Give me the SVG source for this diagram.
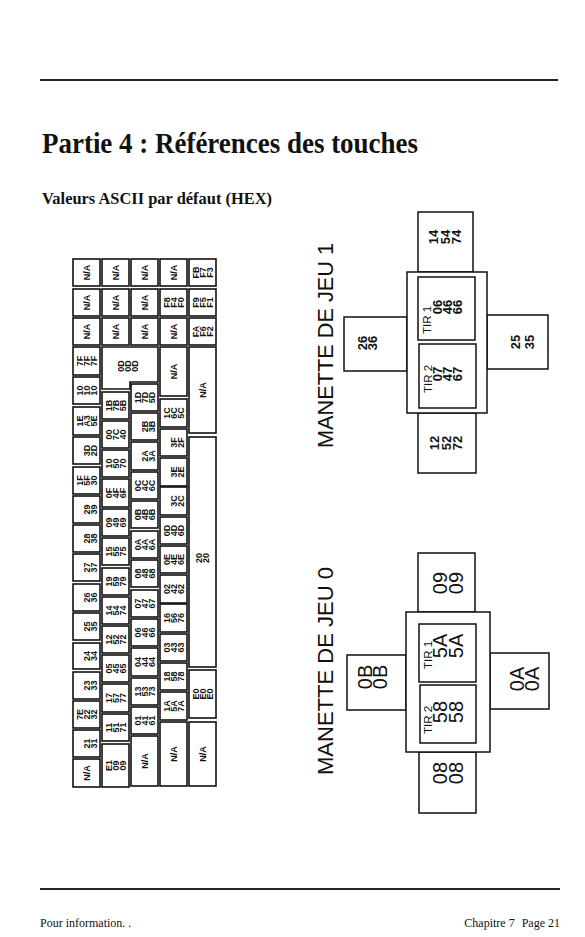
<svg xmlns="http://www.w3.org/2000/svg" width="585" height="937" viewBox="0 0 585 937">
<style>
.key rect,.key polygon{fill:#fff;stroke:#111;stroke-width:1.6}
.key text{font-family:"Liberation Sans",Arial,sans-serif;font-weight:bold;font-size:9px;fill:#111;text-anchor:middle}
.js rect{fill:#fff;stroke:#111;stroke-width:1.5}
.jb{font-family:"Liberation Sans",Arial,sans-serif;font-weight:bold;font-size:13px;fill:#111;text-anchor:middle}
.jr{font-family:"Liberation Sans",Arial,sans-serif;font-size:20px;fill:#111;text-anchor:middle}
.tir{font-family:"Liberation Sans",Arial,sans-serif;font-size:11.5px;fill:#111;text-anchor:middle}
.lab{font-family:"Liberation Sans",Arial,sans-serif;font-size:22px;fill:#111}
.rule{stroke:#222;stroke-width:2}
</style>
<rect width="585" height="937" fill="#fff"/>
<line class="rule" x1="40" y1="80" x2="558" y2="80"/>
<line class="rule" x1="40" y1="889" x2="560" y2="889"/>
<text x="42" y="153" font-family="Liberation Serif,serif" font-weight="bold" font-size="29" textLength="376" lengthAdjust="spacingAndGlyphs" fill="#111">Partie 4 : Références des touches</text>
<text x="42" y="204" font-family="Liberation Serif,serif" font-weight="bold" font-size="16.5" textLength="230" lengthAdjust="spacingAndGlyphs" fill="#111">Valeurs ASCII par défaut (HEX)</text>
<text x="40" y="927" font-family="Liberation Serif,serif" font-size="12" fill="#111">Pour information. .</text>
<text x="560" y="927" font-family="Liberation Serif,serif" font-size="12" fill="#111" text-anchor="end">Chapitre 7<tspan dx="7">Page 21</tspan></text>

<g id="keyboard">
<!-- Column A -->
<g id="kA1" class="key"><rect x="73" y="259" width="27" height="27"/><text transform="translate(86.5,272.5) rotate(-90)" y="3.2">N/A</text></g>
<g id="kA2" class="key"><rect x="73" y="289" width="27" height="27"/><text transform="translate(86.5,302.5) rotate(-90)" y="3.2">N/A</text></g>
<g id="kA3" class="key"><rect x="73" y="318" width="27" height="27"/><text transform="translate(86.5,331.5) rotate(-90)" y="3.2">N/A</text></g>
<g id="kA4" class="key"><rect x="73" y="347" width="27" height="28"/><text transform="translate(86.5,361) rotate(-90)"><tspan x="0" y="-4">7F</tspan><tspan x="0" y="3.2">7F</tspan><tspan x="0" y="10.4">7F</tspan></text></g>
<g id="kA5" class="key"><rect x="73" y="377" width="27" height="27"/><text transform="translate(86.5,390.5) rotate(-90)"><tspan x="0" y="-4">10</tspan><tspan x="0" y="3.2">10</tspan><tspan x="0" y="10.4">10</tspan></text></g>
<g id="kA6" class="key"><rect x="73" y="407" width="27" height="28"/><text transform="translate(86.5,421) rotate(-90)"><tspan x="0" y="-4">1E</tspan><tspan x="0" y="3.2">A3</tspan><tspan x="0" y="10.4">5E</tspan></text></g>
<g id="kA7" class="key"><rect x="73" y="437" width="27" height="27"/><text transform="translate(86.5,450.5) rotate(-90)"><tspan x="0" y="3.2">3D</tspan><tspan x="0" y="10.4">2D</tspan></text></g>
<g id="kA8" class="key"><rect x="73" y="467" width="27" height="27"/><text transform="translate(86.5,480.5) rotate(-90)"><tspan x="0" y="-4">1F</tspan><tspan x="0" y="3.2">5F</tspan><tspan x="0" y="10.4">30</tspan></text></g>
<g id="kA9" class="key"><rect x="73" y="496" width="27" height="27"/><text transform="translate(86.5,509.5) rotate(-90)"><tspan x="0" y="3.2">29</tspan><tspan x="0" y="10.4">39</tspan></text></g>
<g id="kA10" class="key"><rect x="73" y="525" width="27" height="27"/><text transform="translate(86.5,538.5) rotate(-90)"><tspan x="0" y="3.2">28</tspan><tspan x="0" y="10.4">38</tspan></text></g>
<g id="kA11" class="key"><rect x="73" y="554" width="27" height="27"/><text transform="translate(86.5,567.5) rotate(-90)"><tspan x="0" y="3.2">27</tspan><tspan x="0" y="10.4">37</tspan></text></g>
<g id="kA12" class="key"><rect x="73" y="584" width="27" height="27"/><text transform="translate(86.5,597.5) rotate(-90)"><tspan x="0" y="3.2">26</tspan><tspan x="0" y="10.4">36</tspan></text></g>
<g id="kA13" class="key"><rect x="73" y="613" width="27" height="27"/><text transform="translate(86.5,626.5) rotate(-90)"><tspan x="0" y="3.2">25</tspan><tspan x="0" y="10.4">35</tspan></text></g>
<g id="kA14" class="key"><rect x="73" y="643" width="27" height="26"/><text transform="translate(86.5,656) rotate(-90)"><tspan x="0" y="3.2">24</tspan><tspan x="0" y="10.4">34</tspan></text></g>
<g id="kA15" class="key"><rect x="73" y="672" width="27" height="27"/><text transform="translate(86.5,685.5) rotate(-90)"><tspan x="0" y="3.2">23</tspan><tspan x="0" y="10.4">33</tspan></text></g>
<g id="kA16" class="key"><rect x="73" y="701" width="27" height="27"/><text transform="translate(86.5,714.5) rotate(-90)"><tspan x="0" y="-4">7E</tspan><tspan x="0" y="3.2">22</tspan><tspan x="0" y="10.4">32</tspan></text></g>
<g id="kA17" class="key"><rect x="73" y="730" width="27" height="27"/><text transform="translate(86.5,743.5) rotate(-90)"><tspan x="0" y="3.2">21</tspan><tspan x="0" y="10.4">31</tspan></text></g>
<g id="kA18" class="key"><rect x="73" y="759" width="27" height="28"/><text transform="translate(86.5,773) rotate(-90)" y="3.2">N/A</text></g>
<!-- Column B -->
<g id="kB1" class="key"><rect x="102" y="259" width="27" height="27"/><text transform="translate(115.5,272.5) rotate(-90)" y="3.2">N/A</text></g>
<g id="kB2" class="key"><rect x="102" y="289" width="27" height="27"/><text transform="translate(115.5,302.5) rotate(-90)" y="3.2">N/A</text></g>
<g id="kB3" class="key"><rect x="102" y="318" width="27" height="27"/><text transform="translate(115.5,331.5) rotate(-90)" y="3.2">N/A</text></g>
<g id="kReturn" class="key"><polygon points="102,347 158,347 158,382 130,382 130,389 102,389"/><text transform="translate(128,366) rotate(-90)"><tspan x="0" y="-4">0D</tspan><tspan x="0" y="3.2">0D</tspan><tspan x="0" y="10.4">0D</tspan></text></g>
<g id="kB5" class="key"><rect x="102" y="392" width="27" height="27"/><text transform="translate(115.5,405.5) rotate(-90)"><tspan x="0" y="-4">1B</tspan><tspan x="0" y="3.2">7B</tspan><tspan x="0" y="10.4">5B</tspan></text></g>
<g id="kB6" class="key"><rect x="102" y="421" width="27" height="27"/><text transform="translate(115.5,434.5) rotate(-90)"><tspan x="0" y="-4">00</tspan><tspan x="0" y="3.2">7C</tspan><tspan x="0" y="10.4">40</tspan></text></g>
<g id="kB7" class="key"><rect x="102" y="450" width="27" height="27"/><text transform="translate(115.5,463.5) rotate(-90)"><tspan x="0" y="-4">10</tspan><tspan x="0" y="3.2">50</tspan><tspan x="0" y="10.4">70</tspan></text></g>
<g id="kB8" class="key"><rect x="102" y="479" width="27" height="28"/><text transform="translate(115.5,493) rotate(-90)"><tspan x="0" y="-4">0F</tspan><tspan x="0" y="3.2">4F</tspan><tspan x="0" y="10.4">6F</tspan></text></g>
<g id="kB9" class="key"><rect x="102" y="509" width="27" height="27"/><text transform="translate(115.5,522.5) rotate(-90)"><tspan x="0" y="-4">09</tspan><tspan x="0" y="3.2">49</tspan><tspan x="0" y="10.4">69</tspan></text></g>
<g id="kB10" class="key"><rect x="102" y="538" width="27" height="27"/><text transform="translate(115.5,551.5) rotate(-90)"><tspan x="0" y="-4">15</tspan><tspan x="0" y="3.2">55</tspan><tspan x="0" y="10.4">75</tspan></text></g>
<g id="kB11" class="key"><rect x="102" y="568" width="27" height="27"/><text transform="translate(115.5,581.5) rotate(-90)"><tspan x="0" y="-4">19</tspan><tspan x="0" y="3.2">59</tspan><tspan x="0" y="10.4">79</tspan></text></g>
<g id="kB12" class="key"><rect x="102" y="597" width="27" height="27"/><text transform="translate(115.5,610.5) rotate(-90)"><tspan x="0" y="-4">14</tspan><tspan x="0" y="3.2">54</tspan><tspan x="0" y="10.4">74</tspan></text></g>
<g id="kB13" class="key"><rect x="102" y="626" width="27" height="27"/><text transform="translate(115.5,639.5) rotate(-90)"><tspan x="0" y="-4">12</tspan><tspan x="0" y="3.2">52</tspan><tspan x="0" y="10.4">72</tspan></text></g>
<g id="kB14" class="key"><rect x="102" y="655" width="27" height="27"/><text transform="translate(115.5,668.5) rotate(-90)"><tspan x="0" y="-4">05</tspan><tspan x="0" y="3.2">45</tspan><tspan x="0" y="10.4">65</tspan></text></g>
<g id="kB15" class="key"><rect x="102" y="684" width="27" height="28"/><text transform="translate(115.5,698) rotate(-90)"><tspan x="0" y="-4">17</tspan><tspan x="0" y="3.2">57</tspan><tspan x="0" y="10.4">77</tspan></text></g>
<g id="kB16" class="key"><rect x="102" y="714" width="27" height="27"/><text transform="translate(115.5,727.5) rotate(-90)"><tspan x="0" y="-4">11</tspan><tspan x="0" y="3.2">51</tspan><tspan x="0" y="10.4">71</tspan></text></g>
<g id="kB17" class="key"><rect x="102" y="744" width="27" height="43"/><text transform="translate(115.5,765.5) rotate(-90)"><tspan x="0" y="-4">E1</tspan><tspan x="0" y="3.2">09</tspan><tspan x="0" y="10.4">09</tspan></text></g>
<!-- Column C -->
<g id="kC1" class="key"><rect x="131" y="259" width="27" height="27"/><text transform="translate(144.5,272.5) rotate(-90)" y="3.2">N/A</text></g>
<g id="kC2" class="key"><rect x="131" y="289" width="27" height="27"/><text transform="translate(144.5,302.5) rotate(-90)" y="3.2">N/A</text></g>
<g id="kC3" class="key"><rect x="131" y="318" width="27" height="27"/><text transform="translate(144.5,331.5) rotate(-90)" y="3.2">N/A</text></g>
<g id="kC5" class="key"><rect x="131" y="384" width="27" height="27"/><text transform="translate(144.5,397.5) rotate(-90)"><tspan x="0" y="-4">1D</tspan><tspan x="0" y="3.2">7D</tspan><tspan x="0" y="10.4">5D</tspan></text></g>
<g id="kC6" class="key"><rect x="131" y="413" width="27" height="27"/><text transform="translate(144.5,426.5) rotate(-90)"><tspan x="0" y="3.2">2B</tspan><tspan x="0" y="10.4">3B</tspan></text></g>
<g id="kC7" class="key"><rect x="131" y="442" width="27" height="28"/><text transform="translate(144.5,456) rotate(-90)"><tspan x="0" y="3.2">2A</tspan><tspan x="0" y="10.4">3A</tspan></text></g>
<g id="kC8" class="key"><rect x="131" y="472" width="27" height="27"/><text transform="translate(144.5,485.5) rotate(-90)"><tspan x="0" y="-4">0C</tspan><tspan x="0" y="3.2">4C</tspan><tspan x="0" y="10.4">6C</tspan></text></g>
<g id="kC9" class="key"><rect x="131" y="501" width="27" height="27"/><text transform="translate(144.5,514.5) rotate(-90)"><tspan x="0" y="-4">0B</tspan><tspan x="0" y="3.2">4B</tspan><tspan x="0" y="10.4">6B</tspan></text></g>
<g id="kC10" class="key"><rect x="131" y="531" width="27" height="27"/><text transform="translate(144.5,544.5) rotate(-90)"><tspan x="0" y="-4">0A</tspan><tspan x="0" y="3.2">4A</tspan><tspan x="0" y="10.4">6A</tspan></text></g>
<g id="kC11" class="key"><rect x="131" y="560" width="27" height="27"/><text transform="translate(144.5,573.5) rotate(-90)"><tspan x="0" y="-4">08</tspan><tspan x="0" y="3.2">48</tspan><tspan x="0" y="10.4">68</tspan></text></g>
<g id="kC12" class="key"><rect x="131" y="590" width="27" height="27"/><text transform="translate(144.5,603.5) rotate(-90)"><tspan x="0" y="-4">07</tspan><tspan x="0" y="3.2">47</tspan><tspan x="0" y="10.4">67</tspan></text></g>
<g id="kC13" class="key"><rect x="131" y="619" width="27" height="27"/><text transform="translate(144.5,632.5) rotate(-90)"><tspan x="0" y="-4">06</tspan><tspan x="0" y="3.2">46</tspan><tspan x="0" y="10.4">66</tspan></text></g>
<g id="kC14" class="key"><rect x="131" y="648" width="27" height="28"/><text transform="translate(144.5,662) rotate(-90)"><tspan x="0" y="-4">04</tspan><tspan x="0" y="3.2">44</tspan><tspan x="0" y="10.4">64</tspan></text></g>
<g id="kC15" class="key"><rect x="131" y="678" width="27" height="27"/><text transform="translate(144.5,691.5) rotate(-90)"><tspan x="0" y="-4">13</tspan><tspan x="0" y="3.2">53</tspan><tspan x="0" y="10.4">73</tspan></text></g>
<g id="kC16" class="key"><rect x="131" y="707" width="27" height="27"/><text transform="translate(144.5,720.5) rotate(-90)"><tspan x="0" y="-4">01</tspan><tspan x="0" y="3.2">41</tspan><tspan x="0" y="10.4">61</tspan></text></g>
<g id="kC17" class="key"><rect x="131" y="736" width="27" height="50"/><text transform="translate(144.5,761) rotate(-90)" y="3.2">N/A</text></g>
<!-- Column D -->
<g id="kD1" class="key"><rect x="160" y="259" width="27" height="27"/><text transform="translate(173.5,272.5) rotate(-90)" y="3.2">N/A</text></g>
<g id="kD2" class="key"><rect x="160" y="289" width="27" height="27"/><text transform="translate(173.5,302.5) rotate(-90)"><tspan x="0" y="-4">F8</tspan><tspan x="0" y="3.2">F4</tspan><tspan x="0" y="10.4">F0</tspan></text></g>
<g id="kD3" class="key"><rect x="160" y="318" width="27" height="27"/><text transform="translate(173.5,331.5) rotate(-90)" y="3.2">N/A</text></g>
<g id="kD4" class="key"><rect x="160" y="347" width="27" height="49"/><text transform="translate(173.5,371.5) rotate(-90)" y="3.2">N/A</text></g>
<g id="kD5" class="key"><rect x="160" y="399" width="27" height="28"/><text transform="translate(173.5,413) rotate(-90)"><tspan x="0" y="-4">1C</tspan><tspan x="0" y="3.2">6C</tspan><tspan x="0" y="10.4">5C</tspan></text></g>
<g id="kD6" class="key"><rect x="160" y="429" width="27" height="27"/><text transform="translate(173.5,442.5) rotate(-90)"><tspan x="0" y="3.2">3F</tspan><tspan x="0" y="10.4">2F</tspan></text></g>
<g id="kD7" class="key"><rect x="160" y="458" width="27" height="28"/><text transform="translate(173.5,472) rotate(-90)"><tspan x="0" y="3.2">3E</tspan><tspan x="0" y="10.4">2E</tspan></text></g>
<g id="kD8" class="key"><rect x="160" y="487" width="27" height="28"/><text transform="translate(173.5,501) rotate(-90)"><tspan x="0" y="3.2">3C</tspan><tspan x="0" y="10.4">2C</tspan></text></g>
<g id="kD9" class="key"><rect x="160" y="517" width="27" height="27"/><text transform="translate(173.5,530.5) rotate(-90)"><tspan x="0" y="-4">0D</tspan><tspan x="0" y="3.2">4D</tspan><tspan x="0" y="10.4">6D</tspan></text></g>
<g id="kD10" class="key"><rect x="160" y="546" width="27" height="27"/><text transform="translate(173.5,559.5) rotate(-90)"><tspan x="0" y="-4">0E</tspan><tspan x="0" y="3.2">4E</tspan><tspan x="0" y="10.4">6E</tspan></text></g>
<g id="kD11" class="key"><rect x="160" y="575" width="27" height="28"/><text transform="translate(173.5,589) rotate(-90)"><tspan x="0" y="-4">02</tspan><tspan x="0" y="3.2">42</tspan><tspan x="0" y="10.4">62</tspan></text></g>
<g id="kD12" class="key"><rect x="160" y="604" width="27" height="28"/><text transform="translate(173.5,618) rotate(-90)"><tspan x="0" y="-4">16</tspan><tspan x="0" y="3.2">56</tspan><tspan x="0" y="10.4">76</tspan></text></g>
<g id="kD13" class="key"><rect x="160" y="634" width="27" height="27"/><text transform="translate(173.5,647.5) rotate(-90)"><tspan x="0" y="-4">03</tspan><tspan x="0" y="3.2">43</tspan><tspan x="0" y="10.4">63</tspan></text></g>
<g id="kD14" class="key"><rect x="160" y="663" width="27" height="27"/><text transform="translate(173.5,676.5) rotate(-90)"><tspan x="0" y="-4">18</tspan><tspan x="0" y="3.2">58</tspan><tspan x="0" y="10.4">78</tspan></text></g>
<g id="kD15" class="key"><rect x="160" y="692" width="27" height="28"/><text transform="translate(173.5,706) rotate(-90)"><tspan x="0" y="-4">1A</tspan><tspan x="0" y="3.2">5A</tspan><tspan x="0" y="10.4">7A</tspan></text></g>
<g id="kD16" class="key"><rect x="160" y="722" width="27" height="64"/><text transform="translate(173.5,754) rotate(-90)" y="3.2">N/A</text></g>
<!-- Column E -->
<g id="kE1" class="key"><rect x="189" y="259" width="27" height="27"/><text transform="translate(202.5,272.5) rotate(-90)"><tspan x="0" y="-4">FB</tspan><tspan x="0" y="3.2">F7</tspan><tspan x="0" y="10.4">F3</tspan></text></g>
<g id="kE2" class="key"><rect x="189" y="289" width="27" height="27"/><text transform="translate(202.5,302.5) rotate(-90)"><tspan x="0" y="-4">F9</tspan><tspan x="0" y="3.2">F5</tspan><tspan x="0" y="10.4">F1</tspan></text></g>
<g id="kE3" class="key"><rect x="189" y="318" width="27" height="27"/><text transform="translate(202.5,331.5) rotate(-90)"><tspan x="0" y="-4">FA</tspan><tspan x="0" y="3.2">F6</tspan><tspan x="0" y="10.4">F2</tspan></text></g>
<g id="kE4" class="key"><rect x="189" y="347" width="27" height="86"/><text transform="translate(202.5,390) rotate(-90)" y="3.2">N/A</text></g>
<g id="kSpace" class="key"><rect x="189" y="437" width="27" height="230"/><text transform="translate(202.5,558) rotate(-90)"><tspan x="0" y="-0.4">20</tspan><tspan x="0" y="6.8">20</tspan></text></g>
<g id="kE6" class="key"><rect x="189" y="670" width="27" height="48"/><text transform="translate(202.5,694) rotate(-90)"><tspan x="0" y="-4">E0</tspan><tspan x="0" y="3.2">E0</tspan><tspan x="0" y="10.4">E0</tspan></text></g>
<g id="kE7" class="key"><rect x="189" y="722" width="27" height="64"/><text transform="translate(202.5,754) rotate(-90)" y="3.2">N/A</text></g>
</g>

<g id="joystick1">
<text id="j1-label" class="lab" transform="translate(333,448) rotate(-90)" textLength="205" lengthAdjust="spacingAndGlyphs">MANETTE DE JEU 1</text>
<g id="j1-up" class="js"><rect x="418" y="212" width="55" height="60"/><text class="jb" transform="translate(445,237) rotate(-90)"><tspan x="0" y="-7">14</tspan><tspan x="0" y="4.5">54</tspan><tspan x="0" y="16">74</tspan></text></g>
<g id="j1-left" class="js"><rect x="344" y="317" width="63" height="54"/><text class="jb" transform="translate(367,343) rotate(-90)"><tspan x="0" y="-0.5">26</tspan><tspan x="0" y="10">36</tspan></text></g>
<g id="j1-right" class="js"><rect x="487" y="315" width="61" height="54"/><text class="jb" font-size="15" transform="translate(521,342) rotate(-90)"><tspan x="0" y="-1.5">25</tspan><tspan x="0" y="12.5">35</tspan></text></g>
<g id="j1-down" class="js"><rect x="418" y="413" width="58" height="60"/><text class="jb" transform="translate(446,443) rotate(-90)"><tspan x="0" y="-7">12</tspan><tspan x="0" y="4.5">52</tspan><tspan x="0" y="16">72</tspan></text></g>
<g id="j1-body" class="js"><rect x="407" y="272" width="80" height="141"/></g>
<g id="j1-tir1" class="js"><rect x="418" y="277" width="57" height="63"/><text class="tir" transform="translate(427,320) rotate(-90)" y="4">TIR 1</text><text class="jb" font-size="12.5" transform="translate(447,307) rotate(-90)"><tspan x="0" y="-5.5">06</tspan><tspan x="0" y="4.5">46</tspan><tspan x="0" y="14.5">66</tspan></text></g>
<g id="j1-tir2" class="js"><rect x="419" y="344" width="57" height="64"/><text class="tir" transform="translate(428,379) rotate(-90)" y="4">TIR 2</text><text class="jb" font-size="12.5" transform="translate(447,374) rotate(-90)"><tspan x="0" y="-5.5">07</tspan><tspan x="0" y="4.5">47</tspan><tspan x="0" y="14.5">67</tspan></text></g>
</g>

<g id="joystick0">
<text id="j0-label" class="lab" transform="translate(333,775) rotate(-90)" textLength="208" lengthAdjust="spacingAndGlyphs">MANETTE DE JEU 0</text>
<g id="j0-up" class="js"><rect x="418" y="553" width="57" height="59"/><text class="jr" transform="translate(448,583) rotate(-90)"><tspan x="0" y="-0.8">09</tspan><tspan x="0" y="15.2">09</tspan></text></g>
<g id="j0-left" class="js"><rect x="347" y="655" width="59" height="55"/><text class="jr" transform="translate(372,677) rotate(-90)"><tspan x="0" y="-0.3">0B</tspan><tspan x="0" y="14.7">0B</tspan></text></g>
<g id="j0-right" class="js"><rect x="490" y="653" width="59" height="56"/><text class="jr" transform="translate(524,679) rotate(-90)"><tspan x="0" y="0">0A</tspan><tspan x="0" y="14.5">0A</tspan></text></g>
<g id="j0-down" class="js"><rect x="419" y="752" width="57" height="61"/><text class="jr" transform="translate(448,773) rotate(-90)"><tspan x="0" y="-0.8">08</tspan><tspan x="0" y="15.2">08</tspan></text></g>
<g id="j0-body" class="js"><rect x="406" y="612" width="84" height="140"/></g>
<g id="j0-tir1" class="js"><rect x="419" y="624" width="57" height="58"/><text class="tir" transform="translate(428,655) rotate(-90)" y="4">TIR 1</text><text class="jr" transform="translate(448,646) rotate(-90)"><tspan x="0" y="-0.8">5A</tspan><tspan x="0" y="15.2">5A</tspan></text></g>
<g id="j0-tir2" class="js"><rect x="420" y="685" width="56" height="58"/><text class="tir" transform="translate(428,720) rotate(-90)" y="4">TIR 2</text><text class="jr" transform="translate(448,712) rotate(-90)"><tspan x="0" y="-0.8">58</tspan><tspan x="0" y="15.2">58</tspan></text></g>
</g>
<g id="connectors"/>
</svg>
